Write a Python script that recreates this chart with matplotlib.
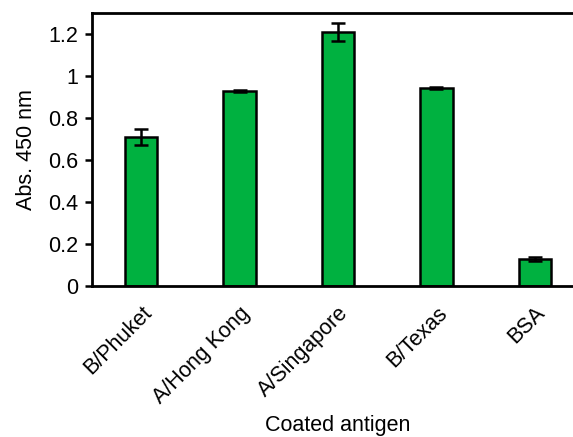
import numpy as np
from matplotlib import pyplot as plt

plt.rcParams['font.family'] = ['Liberation Sans', 'DejaVu Sans']

antigens = ['B/Phuket', 'A/Hong Kong', 'A/Singapore', 'B/Texas', 'BSA']
absorbance = [0.71, 0.929, 1.21, 0.943, 0.129]
errors = [0.038, 0.003, 0.042, 0.005, 0.01]

figure = plt.figure(figsize=(5.73, 4.37), dpi=100)
# axes run past the right edge like the cropped original
axes = figure.add_axes([92 / 573, 1 - 286 / 437, 492 / 573, 273 / 437])

x = np.arange(len(antigens))
axes.bar(x, absorbance, width=0.33, color='#00b140', edgecolor='black',
         linewidth=1.8, yerr=errors, capsize=5,
         error_kw=dict(elinewidth=1.8, capthick=1.8, ecolor='black'), zorder=2)

axes.set_xlim(-0.5, 4.5)
axes.set_ylim(0, 1.3)
axes.set_yticks([0, 0.2, 0.4, 0.6, 0.8, 1.0, 1.2])
axes.set_yticklabels(['0', '0.2', '0.4', '0.6', '0.8', '1', '1.2'])
axes.set_xticks(x)
axes.set_xticklabels(antigens, rotation=45, ha='right', rotation_mode='anchor')
axes.tick_params(axis='x', length=0, pad=12, labelsize=15.5)
axes.tick_params(axis='y', length=5, width=1.8, labelsize=15.5, pad=5)
for side in ['left', 'top', 'bottom']:
    axes.spines[side].set_linewidth(2)
axes.spines['right'].set_visible(False)

axes.set_ylabel('Abs. 450 nm', fontsize=15.5, labelpad=8)
figure.text(338 / 573, 1 - 425 / 437, 'Coated antigen', fontsize=15.5,
            ha='center', va='center')

figure.savefig('out.png', dpi=100)
